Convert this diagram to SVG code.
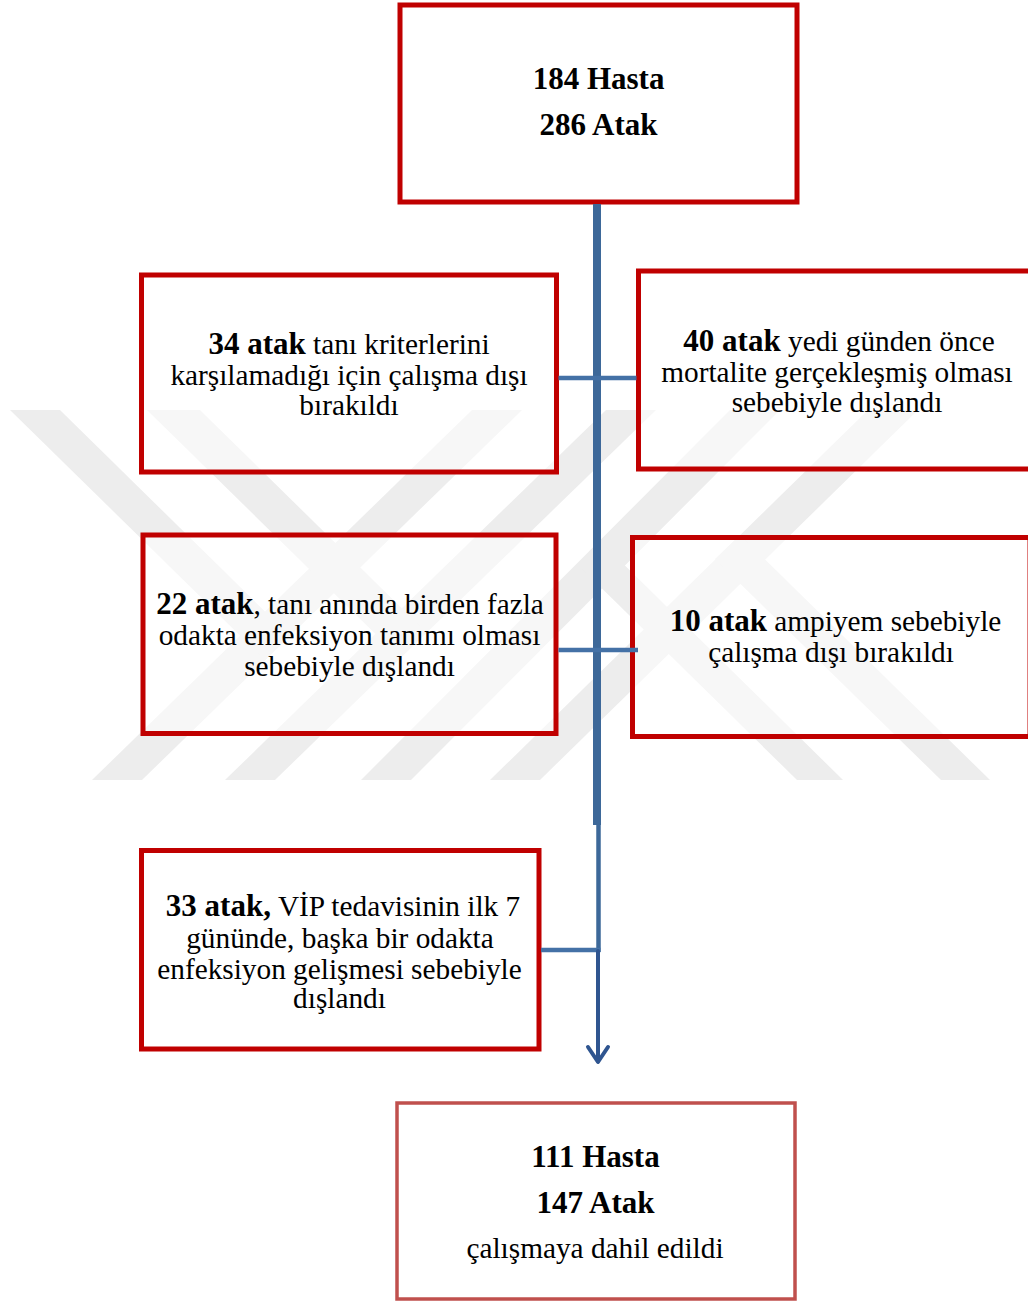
<svg xmlns="http://www.w3.org/2000/svg" width="1028" height="1301" viewBox="0 0 1028 1301">
<defs>
<style>
.wm{fill:#ededed;stroke:none}
.box{fill:#ffffff;fill-opacity:0.55;stroke:#c00000;stroke-width:5}
.box2{fill:#ffffff;fill-opacity:0.55;stroke:#c0504d;stroke-width:3.5}
.t{font-family:"Liberation Serif","Times New Roman",serif;font-size:29.3px;fill:#000;text-anchor:middle}
.b{font-weight:bold;font-size:31px}
.main{stroke:#3d6899;fill:none}
.h{stroke:#4471a6;stroke-width:4.5;fill:none}
.arr{stroke:#2f5590;stroke-width:4;fill:none;stroke-linecap:round;stroke-linejoin:round}
</style>
</defs>
<rect x="0" y="0" width="1028" height="1301" fill="#ffffff"/>
<g id="watermark">
<polygon class="wm" points="472,410 522,410 142,780 92,780"/>
<polygon class="wm" points="606,410 656,410 275,780 225,780"/>
<polygon class="wm" points="730,410 780,410 411,780 361,780"/>
<polygon class="wm" points="868,410 918,410 540,780 490,780"/>
<polygon class="wm" points="10,410 60,410 290,636 265,660"/>
<polygon class="wm" points="147,410 200,410 426,632 400,658"/>
<polygon class="wm" points="797,780 843,780 600,541 577,564"/>
<polygon class="wm" points="941,780 990,780 740,535 715,559"/>
</g>
<g id="n_top">
<rect class="box" x="400" y="5" width="397" height="197"/>
<text class="t b" x="598.5" y="88.5">184 Hasta</text>
<text class="t b" x="598.5" y="135">286 Atak</text>
</g>
<g id="n_34">
<rect class="box" x="141.5" y="275" width="415" height="197"/>
<text class="t" x="349" y="354"><tspan class="b">34 atak</tspan> tanı kriterlerini</text>
<text class="t" x="349" y="384.5">karşılamadığı için çalışma dışı</text>
<text class="t" x="349" y="414.5">bırakıldı</text>
</g>
<g id="n_40">
<rect class="box" x="638.5" y="271" width="400" height="198"/>
<text class="t" x="839" y="350.5"><tspan class="b">40 atak</tspan> yedi günden önce</text>
<text class="t" x="837" y="381.5">mortalite gerçekleşmiş olması</text>
<text class="t" x="837" y="412">sebebiyle dışlandı</text>
</g>
<g id="n_22">
<rect class="box" x="143" y="535" width="413" height="198.5"/>
<text class="t" x="350" y="614"><tspan class="b">22 atak</tspan>, tanı anında birden fazla</text>
<text class="t" x="349.5" y="645">odakta enfeksiyon tanımı olması</text>
<text class="t" x="349.5" y="675.5">sebebiyle dışlandı</text>
</g>
<g id="n_10">
<rect class="box" x="632.5" y="537.5" width="397.5" height="199"/>
<text class="t" x="835.5" y="631"><tspan class="b">10 atak</tspan> ampiyem sebebiyle</text>
<text class="t" x="831" y="662">çalışma dışı bırakıldı</text>
</g>
<g id="n_33">
<rect class="box" x="141.5" y="850.5" width="397.5" height="198.5"/>
<text class="t" x="343" y="916"><tspan class="b">33 atak,</tspan><tspan dx="7">VİP tedavisinin ilk 7</tspan></text>
<text class="t" x="340" y="947.5">gününde, başka bir odakta</text>
<text class="t" x="339.5" y="978.5">enfeksiyon gelişmesi sebebiyle</text>
<text class="t" x="339.5" y="1008">dışlandı</text>
</g>
<g id="n_final">
<rect class="box2" x="397" y="1103" width="398" height="196"/>
<text class="t b" x="595.5" y="1166.5">111 Hasta</text>
<text class="t b" x="595.5" y="1212.5">147 Atak</text>
<text class="t" x="595" y="1258">çalışmaya dahil edildi</text>
</g>
<g id="connectors">
<line class="main" x1="597" y1="204" x2="597" y2="825" stroke-width="8"/>
<line class="main" x1="598.5" y1="823" x2="598.5" y2="952" stroke-width="4.5"/>
<line class="h" x1="558.5" y1="378" x2="636.5" y2="378"/>
<line class="h" x1="558.5" y1="650" x2="638" y2="650"/>
<line class="h" x1="541" y1="950" x2="600.5" y2="950"/>
<line class="arr" x1="598" y1="951" x2="598" y2="1061"/>
<polyline class="arr" points="588,1047 598,1062 608,1047"/>
</g>
</svg>
